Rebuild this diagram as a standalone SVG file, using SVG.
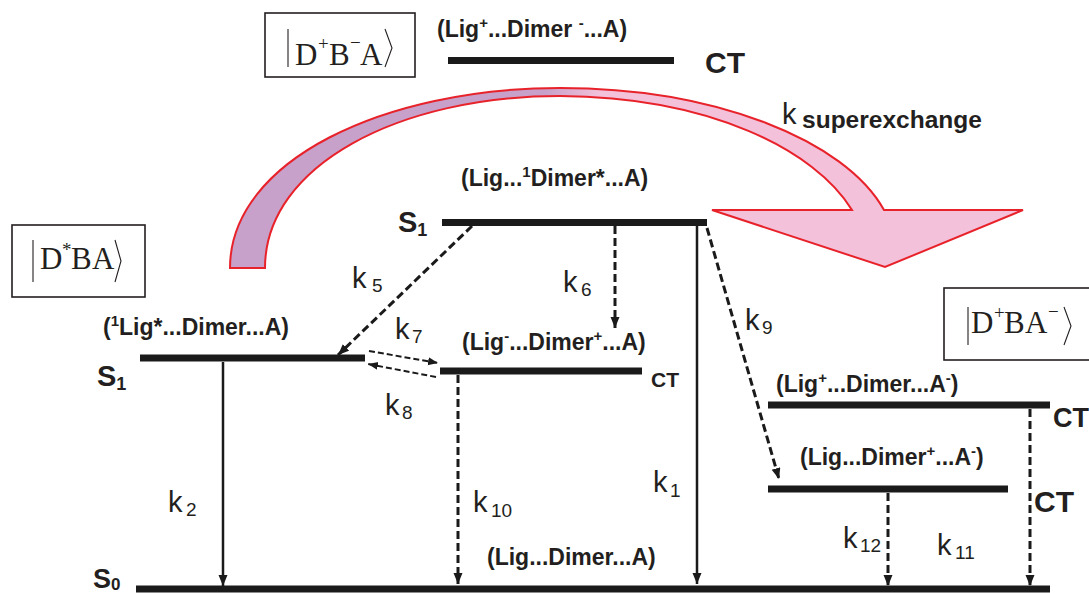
<svg xmlns="http://www.w3.org/2000/svg" width="1089" height="593" viewBox="0 0 1089 593">
<style>
.lvl{stroke:#1a1a1a;stroke-width:7;fill:none}
.lab{font-family:"Liberation Sans",Arial,sans-serif;font-weight:bold;font-size:23px;fill:#231f20}
.sup{font-size:15px}
.ct{font-family:"Liberation Sans",Arial,sans-serif;font-weight:bold;fill:#231f20}
.k{font-family:"Liberation Sans",Arial,sans-serif;font-size:29px;fill:#231f20}
.ks{font-size:19px}
.box{fill:#fff;stroke:#231f20;stroke-width:1.6}
.m{font-family:"Liberation Serif","Times New Roman",serif;font-size:31px;fill:#231f20}
.ms{font-size:19px}
.delim{fill:none;stroke:#231f20;stroke-width:1.1}
.dash{stroke:#1a1a1a;stroke-width:3;stroke-dasharray:8 4;fill:none}
.thin{stroke:#1a1a1a;stroke-width:2;stroke-dasharray:6 3;fill:none}
.solid{stroke:#1a1a1a;stroke-width:2.5;fill:none}
</style>
<defs>
<marker id="ah" markerUnits="userSpaceOnUse" markerWidth="12" markerHeight="10" refX="11" refY="4.5" orient="auto">
<path d="M0,0 L11,4.5 L0,9 Z" fill="#1a1a1a"/>
</marker>
<marker id="ahs" markerUnits="userSpaceOnUse" markerWidth="11" markerHeight="9" refX="10" refY="4" orient="auto">
<path d="M0,0 L10,4 L0,8 Z" fill="#1a1a1a"/>
</marker>
<linearGradient id="bg" gradientUnits="userSpaceOnUse" x1="545" y1="0" x2="600" y2="0">
<stop offset="0" stop-color="#c7a1c9"/>
<stop offset="1" stop-color="#f3c1da"/>
</linearGradient>
</defs>

<g id="superexchange-arrow">
<path d="M230,268 C230,160 385,88 560,88 C715,88 845,140 884,210 L1023,210 L885,267 L712,210 L852,210 C815,150 710,97 560,96 C400,96 265,165 265,268 Z" fill="url(#bg)" stroke="#e8222a" stroke-width="2" stroke-linejoin="miter"/>
<text class="k" x="782" y="124" font-size="37">k</text>
<text class="lab" x="802" y="128" font-size="23" textLength="180" lengthAdjust="spacingAndGlyphs">superexchange</text>
</g>

<g id="box-DpBmA">
<rect class="box" x="265" y="13" width="150" height="64"/>
<line class="delim" x1="288" y1="29" x2="288" y2="67"/>
<text class="m"><tspan x="295" y="65">D</tspan><tspan class="ms" x="318" y="50">+</tspan><tspan x="329" y="65">B</tspan><tspan class="ms" x="350" y="49">−</tspan><tspan x="360" y="65">A</tspan></text>
<polyline class="delim" points="385,29 392,48 385,67"/>
</g>

<g id="box-DstarBA">
<rect class="box" x="12" y="225" width="133" height="72"/>
<line class="delim" x1="33" y1="240" x2="33" y2="282"/>
<text class="m"><tspan x="40" y="269">D</tspan><tspan class="ms" x="62" y="256">*</tspan><tspan x="71" y="269">B</tspan><tspan x="92" y="269">A</tspan></text>
<polyline class="delim" points="115,240 121,261 115,282"/>
</g>

<g id="box-DpBAm">
<rect class="box" x="944" y="288" width="152" height="72"/>
<line class="delim" x1="968" y1="307" x2="968" y2="345"/>
<text class="m"><tspan x="971" y="333">D</tspan><tspan class="ms" x="994" y="319">+</tspan><tspan x="1004" y="333">B</tspan><tspan x="1025" y="333">A</tspan><tspan class="ms" x="1048" y="318">−</tspan></text>
<polyline class="delim" points="1064,307 1071,326 1064,345"/>
</g>

<g id="level-CT-top">
<line class="lvl" x1="448" y1="60.5" x2="674" y2="60.5"/>
<text class="lab" x="437" y="37">(Lig<tspan class="sup" dy="-9">+</tspan><tspan dy="9">...Dimer </tspan><tspan class="sup" dy="-9">-</tspan><tspan dy="9">...A)</tspan></text>
<text class="ct" x="705" y="73" font-size="30">CT</text>
</g>

<g id="level-S1-dimer">
<line class="lvl" x1="442" y1="222.5" x2="707" y2="222.5"/>
<text class="lab" x="461" y="186">(Lig...<tspan class="sup" dy="-9">1</tspan><tspan dy="9">Dimer*...A)</tspan></text>
<text class="ct" x="398" y="232" font-size="29">S<tspan font-size="18" dy="4">1</tspan></text>
</g>

<g id="level-S1-lig">
<line class="lvl" x1="140" y1="358" x2="365" y2="358"/>
<text class="lab" x="103" y="335">(<tspan class="sup" dy="-9">1</tspan><tspan dy="9">Lig*...Dimer...A)</tspan></text>
<text class="ct" x="97" y="386" font-size="29">S<tspan font-size="18" dy="4">1</tspan></text>
</g>

<g id="level-CT-mid">
<line class="lvl" x1="440" y1="371" x2="642" y2="371"/>
<text class="lab" x="462" y="350">(Lig<tspan class="sup" dy="-9">-</tspan><tspan dy="9">...Dimer</tspan><tspan class="sup" dy="-9">+</tspan><tspan dy="9">...A)</tspan></text>
<text class="ct" x="651" y="387" font-size="21">CT</text>
</g>

<g id="level-CT-right1">
<line class="lvl" x1="768" y1="405" x2="1050" y2="405"/>
<text class="lab" x="776" y="392">(Lig<tspan class="sup" dy="-9">+</tspan><tspan dy="9">...Dimer...A</tspan><tspan class="sup" dy="-9">-</tspan><tspan dy="9">)</tspan></text>
<text class="ct" x="1053" y="427" font-size="27">CT</text>
</g>

<g id="level-CT-right2">
<line class="lvl" x1="768" y1="489" x2="1008" y2="489"/>
<text class="lab" x="800" y="465">(Lig...Dimer<tspan class="sup" dy="-9">+</tspan><tspan dy="9">...A</tspan><tspan class="sup" dy="-9">-</tspan><tspan dy="9">)</tspan></text>
<text class="ct" x="1034" y="512" font-size="30">CT</text>
</g>

<g id="level-S0">
<line class="lvl" x1="136" y1="589" x2="1050" y2="589"/>
<text class="lab" x="487" y="565">(Lig...Dimer...A)</text>
<text class="ct" x="93" y="588" font-size="27">S<tspan font-size="17" dy="2">0</tspan></text>
</g>

<g id="connectors">
<line class="dash" x1="472" y1="226" x2="338" y2="355" marker-end="url(#ah)"/>
<line class="thin" x1="369" y1="351" x2="438" y2="363" marker-end="url(#ahs)"/>
<line class="thin" x1="436" y1="377" x2="368" y2="364" marker-end="url(#ahs)"/>
<line class="dash" x1="615" y1="226" x2="615" y2="328" marker-end="url(#ah)"/>
<line class="dash" x1="707" y1="228" x2="779" y2="479" marker-end="url(#ah)"/>
<line class="solid" x1="697" y1="226" x2="697" y2="584" marker-end="url(#ah)"/>
<line class="solid" x1="223" y1="362" x2="223" y2="586" marker-end="url(#ah)"/>
<line class="dash" x1="458" y1="375" x2="458" y2="584" marker-end="url(#ah)"/>
<line class="dash" x1="888" y1="493" x2="888" y2="586" marker-end="url(#ah)"/>
<line class="dash" x1="1030" y1="409" x2="1030" y2="586" marker-end="url(#ah)"/>
<text class="k" x="352" y="288">k<tspan class="ks" x="372" y="292">5</tspan></text>
<text class="k" x="395" y="339">k<tspan class="ks" x="412" y="343">7</tspan></text>
<text class="k" x="385" y="415">k<tspan class="ks" x="402" y="419">8</tspan></text>
<text class="k" x="563" y="292">k<tspan class="ks" x="581" y="296">6</tspan></text>
<text class="k" x="745" y="330">k<tspan class="ks" x="762" y="334">9</tspan></text>
<text class="k" x="168" y="512">k<tspan class="ks" x="186" y="516">2</tspan></text>
<text class="k" x="473" y="512">k<tspan class="ks" x="491" y="517">10</tspan></text>
<text class="k" x="653" y="492">k<tspan class="ks" x="670" y="497">1</tspan></text>
<text class="k" x="843" y="548">k<tspan class="ks" x="860" y="552">12</tspan></text>
<text class="k" x="937" y="555">k<tspan class="ks" x="955" y="559">11</tspan></text>
</g>
</svg>
